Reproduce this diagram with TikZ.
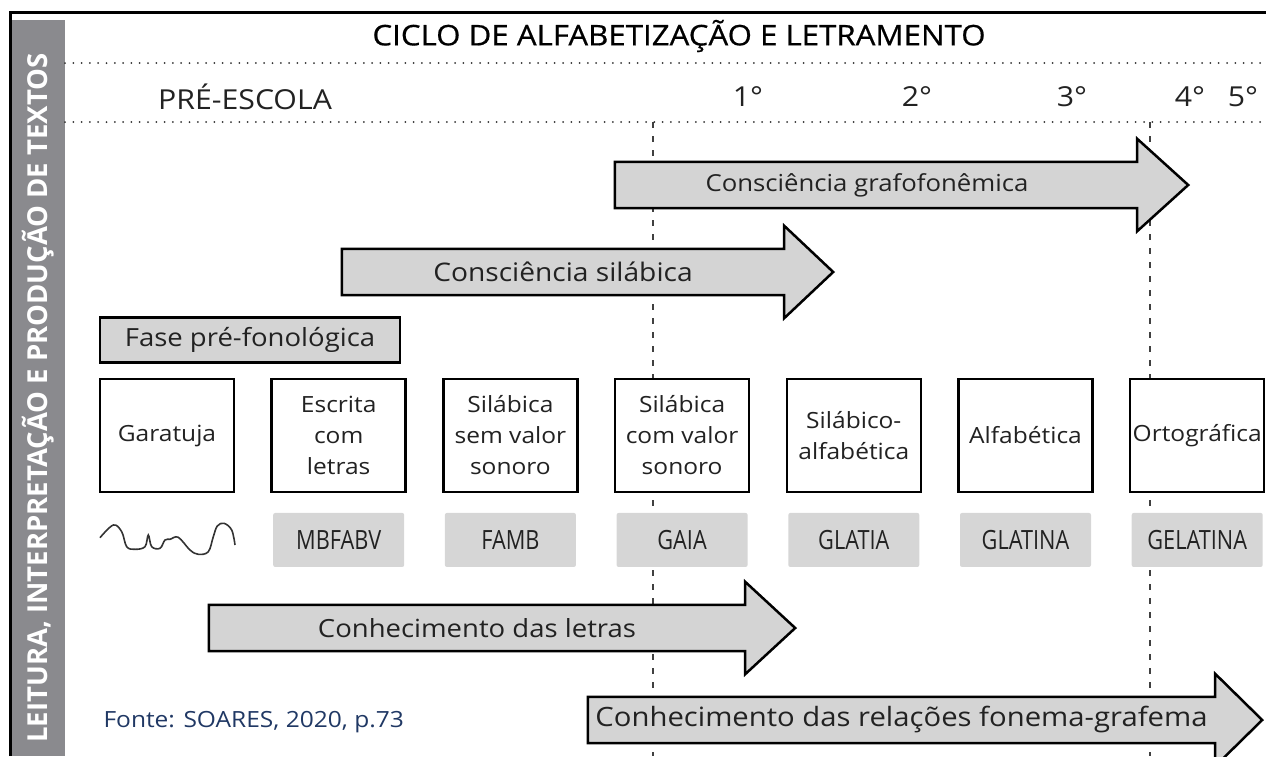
\documentclass[tikz,border=0pt]{standalone}
\usepackage{fontspec}
\setmainfont{Open Sans}[FakeStretch=1.1]
\newfontfamily\plainfont{Open Sans}
\newfontfamily\condensed[FakeStretch=0.82]{Open Sans}
\newfontfamily\titlefont[FakeStretch=1.1, FakeBold=0.6]{Open Sans}
\usepackage{tikz}
\usetikzlibrary{positioning}
\usetikzlibrary{backgrounds}
\definecolor{sidegray}{RGB}{138,138,142}
\definecolor{bargray}{RGB}{212,212,212}
\definecolor{samplegray}{RGB}{214,214,214}
\definecolor{fonteblue}{RGB}{32,56,100}
\definecolor{ink}{RGB}{34,34,34}

\begin{document}
\begin{tikzpicture}[x=1pt, y=-1pt, node distance={35.2pt}, text=ink,
    stage/.style = {draw, line width=2.5pt, fill=white, minimum width=134pt, minimum height=113pt, inner sep=0pt, align=center, font=\fontsize{22.3}{31}\selectfont},
    sample/.style = {fill=samplegray, rounded corners=2pt, minimum width=131pt, minimum height=54pt, font=\condensed\fontsize{26.5}{28}\selectfont},
    bar/.style = {minimum height=46pt, inner sep=0pt},
    barline/.style = {draw, line width=2.5pt, fill=bargray, line join=miter},
    grade/.style = {font=\fontsize{27.5}{30}\selectfont},
    dotline/.style = {line width=2pt, line cap=round, dash pattern=on 0pt off 8.3pt, black!80},
    gridline/.style = {line width=1.2pt, dash pattern=on 6pt off 8pt, black!75}]
    \useasboundingbox (0,0) rectangle (1266,756);
    % Frame and side bar
    \draw[line width=3pt] (10,756) -- (10,12) -- (1266,12);
    \fill[sidegray] (12,20) rectangle (65,756);
    \node[rotate=90, text=white, font=\plainfont\bfseries\fontsize{27.5}{30}\selectfont] (side) at (38.5,398) {LEITURA, INTERPRETAÇÃO E PRODUÇÃO DE TEXTOS};
    % Header
    \node[font=\titlefont\fontsize{28.4}{32}\selectfont, text=black] (title) at (679,36) {CICLO DE ALFABETIZAÇÃO E LETRAMENTO};
    \draw[dotline] (65,63) -- (1266,63);
    \draw[dotline] (65,122) -- (1266,122);
    \node[grade] (pre) at (245,97) {PRÉ-ESCOLA};
    \node[grade] (g1) at (748,97) {1°};
    \node[grade] (g2) at (917,97) {2°};
    \node[grade] (g3) at (1072,97) {3°};
    \node[grade] (g4) at (1190,97) {4°};
    \node[grade] (g5) at (1243,97) {5°};
    \begin{scope}[on background layer]
        \draw[gridline] (653,122) -- (653,756);
        \draw[gridline] (1150,122) -- (1150,756);
    \end{scope}
    % Arrows
    \node[bar, minimum width=522pt, font=\fontsize{23.4}{26}\selectfont] (grafo) at (876,185) {Consciência grafofonêmica\hspace*{18pt}};
    \node[bar, minimum width=442pt, font=\fontsize{25.6}{28}\selectfont] (silab) at (563,272) {Consciência silábica};
    \node[bar, minimum width=536pt, font=\fontsize{25}{28}\selectfont] (letras) at (477,628) {Conhecimento das letras};
    \node[bar, minimum width=627pt, font=\fontsize{26.6}{28}\selectfont] (relacoes) at (901.5,720) {Conhecimento das relações fonema-grafema};
    \begin{scope}[on background layer]
        \foreach \b/\h in {grafo/51, silab/49, letras/50, relacoes/47}
            \draw[barline] (\b.north west) -- (\b.north east) -- ([yshift=23pt]\b.north east)
                -- ([xshift=\h pt]\b.east) -- ([yshift=-23pt]\b.south east) -- (\b.south east)
                -- (\b.south west) -- cycle;
    \end{scope}
    \node[bar, draw, line width=2.5pt, fill=bargray, minimum width=300pt, minimum height=45pt, font=\fontsize{25}{28}\selectfont] (fase) at (250,340) {Fase pré-fonológica};
    % Stages
    \node[stage] (garatuja) at (167,435.5) {Garatuja};
    \node[stage] (escrita) [right=of garatuja] {Escrita\\com\\letras};
    \node[stage] (semvalor) [right=of escrita] {Silábica\\sem valor\\sonoro};
    \node[stage] (comvalor) [right=of semvalor] {Silábica\\com valor\\sonoro};
    \node[stage] (silalf) [right=of comvalor] {Silábico-\\alfabética};
    \node[stage] (alfab) [right=of silalf] {Alfabética};
    \node[stage] (orto) [right=of alfab] {Ortográfica};
    % Examples
    \draw[line width=1.6pt, black!80] plot[smooth, tension=0.6] coordinates {(100,537.7) (113.3,525) (121.7,531.7) (126.7,546.7) (135,549.3) (145,546.7) (148.3,535) (151.7,546.7) (160,548.3) (165,540) (170,539.3) (178.3,537.3) (190,550) (198.3,554.3) (208.3,551.7) (213.3,536.7) (217.3,526) (224,523.3) (231.7,530) (235,545)};
    \node[sample] (mbfabv) [below=19.5pt of escrita] {MBFABV};
    \node[sample] (famb) [below=19.5pt of semvalor] {FAMB};
    \node[sample] (gaia) [below=19.5pt of comvalor] {GAIA};
    \node[sample] (glatia) [below=19.5pt of silalf] {GLATIA};
    \node[sample] (glatina) [below=19.5pt of alfab] {GLATINA};
    \node[sample] (gelatina) [below=19.5pt of orto] {GELATINA};
    % Source
    \node[anchor=west, text=fonteblue, font=\fontsize{22.3}{26}\selectfont] (fonte) at (100,722) {Fonte: SOARES, 2020, p.73};
\end{tikzpicture}
\end{document}
